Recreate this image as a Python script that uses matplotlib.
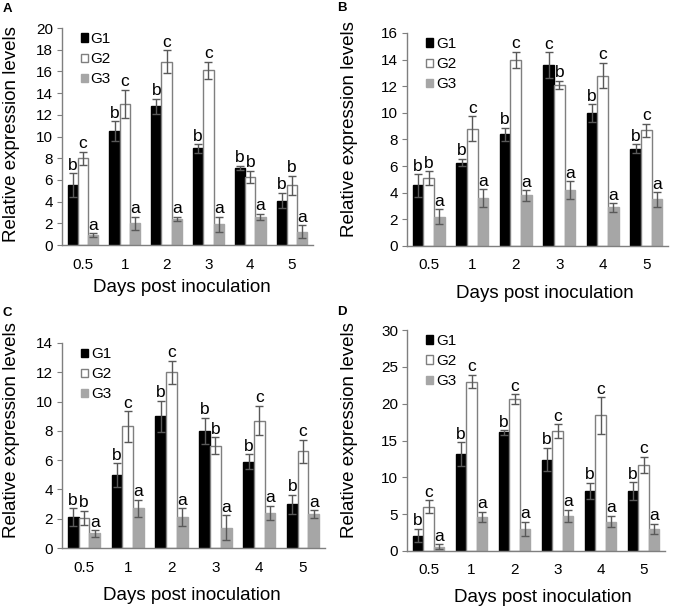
import matplotlib.pyplot as plt
import numpy as np

plt.rcParams['font.family'] = ['Liberation Sans', 'DejaVu Sans']

days = ['0.5', '1', '2', '3', '4', '5']
groups = ['G1', 'G2', 'G3']

# panel A
a_mean = [[5.5, 10.5, 12.8, 8.9, 7.1, 4.1],
          [8.0, 13.0, 16.9, 16.1, 6.3, 5.5],
          [0.9, 2.0, 2.4, 1.9, 2.6, 1.2]]
a_err = [[1.1, 0.9, 0.7, 0.4, 0.2, 0.7],
         [0.6, 1.3, 1.05, 0.8, 0.55, 0.9],
         [0.2, 0.6, 0.2, 0.7, 0.3, 0.6]]
a_sig = [['b'] * 6, ['c', 'c', 'c', 'c', 'b', 'b'], ['a'] * 6]

# panel B
b_mean = [[4.55, 6.27, 8.4, 13.6, 10.0, 7.3],
          [5.1, 8.8, 14.0, 12.1, 12.8, 8.7],
          [2.2, 3.6, 3.8, 4.2, 2.9, 3.5]]
b_err = [[0.85, 0.27, 0.5, 0.95, 0.65, 0.35],
         [0.5, 0.95, 0.6, 0.3, 0.95, 0.5],
         [0.57, 0.65, 0.4, 0.68, 0.33, 0.55]]
b_sig = [['b', 'b', 'b', 'c', 'b', 'b'], ['b', 'c', 'c', 'b', 'c', 'c'], ['a'] * 6]

# panel C
c_mean = [[2.1, 5.0, 9.0, 8.0, 5.9, 3.0],
          [2.05, 8.3, 12.0, 7.0, 8.7, 6.6],
          [1.0, 2.7, 2.1, 1.4, 2.4, 2.3]]
c_err = [[0.6, 0.8, 1.05, 0.9, 0.5, 0.65],
         [0.5, 1.05, 0.8, 0.57, 1.0, 0.8],
         [0.23, 0.6, 0.6, 0.85, 0.5, 0.27]]
c_sig = [['b'] * 6, ['b', 'c', 'c', 'b', 'c', 'c'], ['a'] * 6]

# panel D
d_mean = [[2.1, 13.2, 16.1, 12.4, 8.15, 8.15],
          [6.0, 23.0, 20.6, 16.3, 18.4, 11.7],
          [0.6, 4.6, 3.0, 4.8, 4.0, 3.0]]
d_err = [[0.9, 1.6, 0.3, 1.6, 1.1, 1.2],
         [0.9, 0.9, 0.7, 0.9, 2.45, 1.1],
         [0.3, 0.7, 1.0, 0.8, 0.8, 0.7]]
d_sig = [['b'] * 6, ['c'] * 6, ['a'] * 6]

fills = ['black', 'white', '#a6a6a6']
edges = ['black', '#7f7f7f', '#a6a6a6']
axcol = '#7f7f7f'

W, H = 675, 609
fig = plt.figure(figsize=(W / 100, H / 100), dpi=100)


def px_axes(left, top, right, bottom):
    return fig.add_axes([left / W, 1 - bottom / H, (right - left) / W, (bottom - top) / H])


def panel(box, mean, err, sig, ymax, ystep, letter, letter_xy, ylab_xy, xlab_xy):
    ax = px_axes(*box)
    x = np.arange(len(days))
    w = 0.245
    for i in range(3):
        xs = x + (i - 1) * w
        ax.bar(xs, mean[i], w, color=fills[i], edgecolor=edges[i], linewidth=1,
               label=groups[i], zorder=2)
        ax.errorbar(xs, mean[i], yerr=err[i], fmt='none', ecolor='#595959',
                    elinewidth=1, capsize=2.8, capthick=1, zorder=3)
        for xx, m, e, s in zip(xs, mean[i], err[i], sig[i]):
            ax.annotate(s, (xx, m + e), xytext=(0, 2.5), textcoords='offset points',
                        ha='center', va='baseline', fontsize=12.5)
    ax.set_xlim(-0.5, len(days) - 0.5)
    ax.set_ylim(0, ymax)
    ax.set_yticks(np.arange(0, ymax + 0.1, ystep))
    ax.set_xticks(x)
    ax.set_xticklabels(days)
    for s in ['top', 'right']:
        ax.spines[s].set_visible(False)
    for s in ['left', 'bottom']:
        ax.spines[s].set_color(axcol)
        ax.spines[s].set_linewidth(1)
    ax.tick_params(axis='x', length=0, pad=9, labelsize=11)
    ax.tick_params(axis='y', length=3.5, color=axcol, pad=3, labelsize=11)
    ax.legend(loc='upper left', bbox_to_anchor=(0.05, 1.01), frameon=False,
              handlelength=0.45, handleheight=0.45, handletextpad=0.2,
              labelspacing=0.4, fontsize=11, borderaxespad=0)
    fig.text(letter_xy[0] / W, 1 - letter_xy[1] / H, letter, fontsize=9.5,
             fontweight='bold', ha='center', va='center')
    fig.text(ylab_xy[0] / W, 1 - ylab_xy[1] / H, 'Relative expression levels',
             rotation=90, fontsize=13.5, ha='center', va='center')
    fig.text(xlab_xy[0] / W, 1 - xlab_xy[1] / H, 'Days post inoculation',
             fontsize=13.5, ha='center', va='center')
    return ax


panel((62, 28, 313, 245), a_mean, a_err, a_sig, 20, 2, 'A', (7, 9), (12, 134), (182, 288))
panel((407, 33, 668, 246), b_mean, b_err, b_sig, 16, 2, 'B', (342, 8), (350, 129), (545, 293))
panel((62, 343, 325, 548), c_mean, c_err, c_sig, 14, 2, 'C', (7, 313), (12, 430), (192, 595))
panel((407, 330, 665, 551), d_mean, d_err, d_sig, 30, 5, 'D', (342, 312), (350, 430), (543, 598))

fig.savefig('out.png', dpi=100)
